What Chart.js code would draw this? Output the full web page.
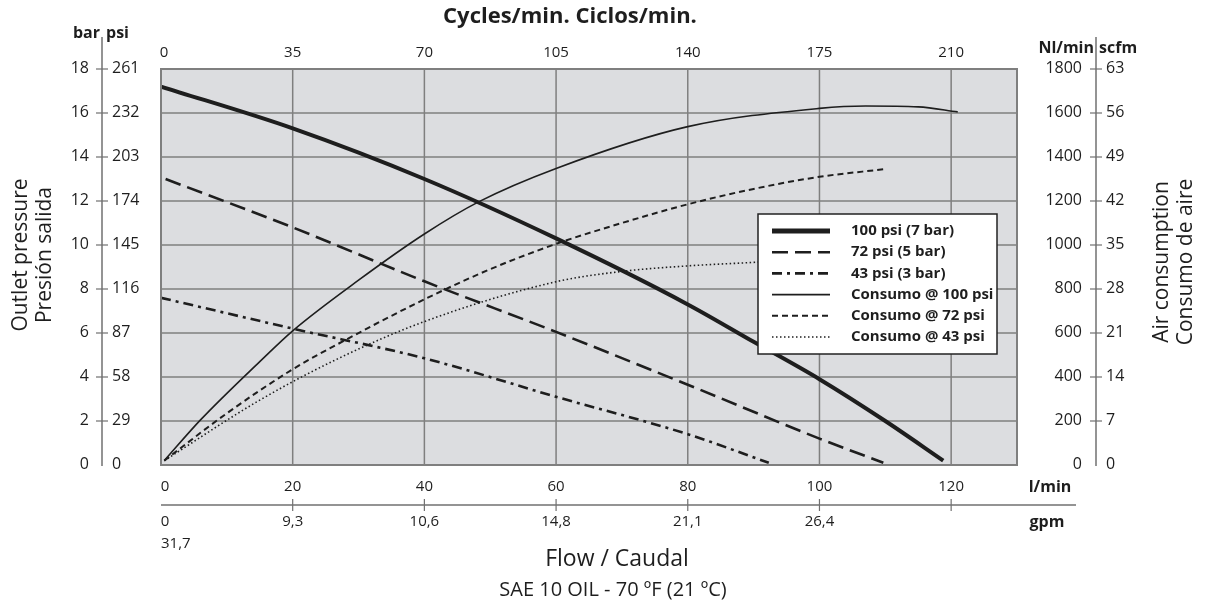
<!DOCTYPE html>
<html>
<head>
<meta charset="utf-8">
<script src="https://cdn.jsdelivr.net/npm/chart.js@4.4.1/dist/chart.umd.min.js"></script>
<style>
    html, body { margin: 0; padding: 0; background: #fff; }
    #wrap { width: 1205px; height: 602px; position: relative; }
</style>
</head>
<body>
<div id="wrap"><canvas id="pump"></canvas></div>
<script>
// Outlet pressure curves (flow in l/min, pressure in bar)
const flowP100 = [0, 20, 40, 60, 80, 90, 100, 110, 118.8];
const presP100 = [17.2, 15.3, 13.0, 10.3, 7.3, 5.6, 3.9, 2.0, 0.2];
const flowP72 = [0.7, 20, 40, 60, 80, 100, 109.7];
const presP72 = [13.0, 10.8, 8.35, 6.05, 3.65, 1.2, 0.1];
const flowP43 = [0, 20, 40, 60, 80, 92.3];
const presP43 = [7.6, 6.2, 4.85, 3.1, 1.4, 0.1];

// Air consumption curves (flow in l/min, air in Nl/min)
const flowC100 = [0.5, 6, 15, 20, 30, 40, 48.3, 60, 80, 100, 107, 115, 121];
const airC100 = [20, 205, 470, 610, 840, 1050, 1197, 1348, 1538, 1621, 1632, 1628, 1605];
const flowC72 = [0.5, 10, 20, 28, 40, 50, 60, 70, 80, 90, 100, 109.7];
const airC72 = [20, 235, 435, 568, 753, 890, 1005, 1100, 1185, 1255, 1310, 1344];
const flowC43 = [0.5, 15, 27, 40, 60, 70, 80, 90, 92.3];
const airC43 = [20, 295, 485, 652, 833, 880, 905, 921, 925];

// Axis tick labels
const barTicks = [0, 2, 4, 6, 8, 10, 12, 14, 16, 18];
const psiTicks = ['0', '29', '58', '87', '116', '145', '174', '203', '232', '261'];
const nlTicks = [0, 200, 400, 600, 800, 1000, 1200, 1400, 1600, 1800];
const scfmTicks = ['0', '7', '14', '21', '28', '35', '42', '49', '56', '63'];
const lpmTicks = [0, 20, 40, 60, 80, 100, 120];
const cycleTicks = [0, 35, 70, 105, 140, 175, 210];
const gpmTicks = ['0', '9,3', '10,6', '14,8', '21,1', '26,4'];

const legendLabels = ['100 psi (7 bar)', '72 psi (5 bar)', '43 psi (3 bar)',
    'Consumo @ 100 psi', 'Consumo @ 72 psi', 'Consumo @ 43 psi'];

const FONT = '"Open Sans", "DejaVu Sans", sans-serif';
const INK = '#1e1e1e';
const AXIS = '#707070';
const GRID = '#7f7f7f';

function pts(xs, ys) {
    return xs.map((x, i) => ({ x: x, y: ys[i] }));
}

function curve(label, data, axis, width, dash) {
    return {
        label: label,
        data: data,
        yAxisID: axis,
        borderColor: INK,
        borderWidth: width,
        borderDash: dash,
        pointRadius: 0,
        cubicInterpolationMode: 'monotone',
        fill: false,
    };
}

const datasets = [
    curve(legendLabels[0], pts(flowP100, presP100), 'y', 4, []),
    curve(legendLabels[1], pts(flowP72, presP72), 'y', 2.6, [16, 7]),
    curve(legendLabels[2], pts(flowP43, presP43), 'y', 2.6, [10, 5, 3, 5]),
    curve(legendLabels[3], pts(flowC100, airC100), 'y2', 1.6, []),
    curve(legendLabels[4], pts(flowC72, airC72), 'y2', 2, [6, 4]),
    curve(legendLabels[5], pts(flowC43, airC43), 'y2', 1.6, [1.5, 2.5]),
];

function txt(ctx, s, x, y, size, bold, align) {
    ctx.font = (bold ? 'bold ' : '') + size + 'px ' + FONT;
    ctx.textAlign = align || 'center';
    ctx.textBaseline = 'middle';
    ctx.fillStyle = INK;
    ctx.fillText(s, x, y);
}

function vtxt(ctx, s, x, y, size) {
    ctx.save();
    ctx.translate(x, y);
    ctx.rotate(-Math.PI / 2);
    txt(ctx, s, 0, 0, size, false, 'center');
    ctx.restore();
}

function line(ctx, x1, y1, x2, y2, color, width) {
    ctx.beginPath();
    ctx.strokeStyle = color;
    ctx.lineWidth = width;
    ctx.setLineDash([]);
    ctx.moveTo(x1, y1);
    ctx.lineTo(x2, y2);
    ctx.stroke();
}

const pumpDecor = {
    id: 'pumpDecor',
    beforeDatasetsDraw(chart) {
        const { ctx, chartArea: a, scales } = chart;
        ctx.save();
        ctx.fillStyle = '#dcdde0';
        ctx.fillRect(a.left, a.top, a.right - a.left, a.bottom - a.top);
        // grid
        lpmTicks.forEach(v => {
            const x = scales.x.getPixelForValue(v);
            line(ctx, x, a.top, x, a.bottom, GRID, 1.5);
        });
        barTicks.forEach(v => {
            const y = scales.y.getPixelForValue(v);
            line(ctx, a.left, y, a.right, y, GRID, 1.5);
        });
        ctx.restore();
    },
    afterDatasetsDraw(chart) {
        const { ctx, chartArea: a } = chart;
        ctx.save();
        ctx.strokeStyle = GRID;
        ctx.lineWidth = 2;
        ctx.setLineDash([]);
        ctx.strokeRect(a.left, a.top, a.right - a.left, a.bottom - a.top);

        // legend box
        const lx = 758, ly = 214, lw = 239, lh = 140;
        ctx.fillStyle = '#fff';
        ctx.fillRect(lx, ly, lw, lh);
        ctx.strokeStyle = '#222';
        ctx.lineWidth = 1.5;
        ctx.strokeRect(lx, ly, lw, lh);
        chart.data.datasets.forEach((ds, i) => {
            const y = ly + 17 + i * 21.2;
            ctx.beginPath();
            ctx.strokeStyle = INK;
            ctx.lineWidth = i === 0 ? 5 : ds.borderWidth;
            ctx.setLineDash(ds.borderDash);
            ctx.moveTo(772, y);
            ctx.lineTo(830, y);
            ctx.stroke();
            txt(ctx, ds.label, 851, y, 15, true, 'left');
        });
        ctx.restore();
    },
    afterDraw(chart) {
        const { ctx, chartArea: a, scales } = chart;
        ctx.save();

        // top: cycles/min
        txt(ctx, 'Cycles/min. Ciclos/min.', 570, 17, 22, true);
        cycleTicks.forEach(c => {
            const x = scales.x.getPixelForValue(c * 20 / 35);
            txt(ctx, String(c), c === 0 ? x + 3 : x, 53, 15, false);
        });

        // left: bar / psi
        line(ctx, 102, 37, 102, 466, AXIS, 1.5);
        txt(ctx, 'bar', 100, 33, 16, true, 'right');
        txt(ctx, 'psi', 106, 33, 16, true, 'left');
        barTicks.forEach((b, i) => {
            const y = scales.y.getPixelForValue(b);
            if (b > 0) line(ctx, 96, y, 108, y, AXIS, 1.2);
            txt(ctx, String(b), 89, y - 1, 16, false, 'right');
            txt(ctx, psiTicks[i], 112, y - 1, 16, false, 'left');
        });
        vtxt(ctx, 'Outlet pressure', 21, 255, 21);
        vtxt(ctx, 'Presión salida', 45, 255, 21);

        // right: Nl/min / scfm
        line(ctx, 1096, 37, 1096, 466, AXIS, 1.5);
        txt(ctx, 'Nl/min', 1094, 48, 16, true, 'right');
        txt(ctx, 'scfm', 1099, 48, 16, true, 'left');
        nlTicks.forEach((n, i) => {
            const y = scales.y2.getPixelForValue(n);
            if (n > 0) line(ctx, 1090, y, 1102, y, AXIS, 1.2);
            txt(ctx, String(n), 1082, y - 1, 16, false, 'right');
            txt(ctx, scfmTicks[i], 1106, y - 1, 16, false, 'left');
        });
        vtxt(ctx, 'Air consumption', 1162, 262, 21);
        vtxt(ctx, 'Consumo de aire', 1186, 262, 21);

        // bottom: l/min and gpm
        lpmTicks.forEach((q, i) => {
            const x = scales.x.getPixelForValue(q);
            txt(ctx, String(q), q === 0 ? x + 4 : x, 487, 15, false);
            if (q > 0) line(ctx, x, 499, x, 511, AXIS, 1.2);
            if (gpmTicks[i] !== undefined) {
                txt(ctx, gpmTicks[i], q === 0 ? x + 4 : x, 522, 15, false);
            }
        });
        line(ctx, a.left, 505, 1076, 505, AXIS, 1.5);
        txt(ctx, '31,7', a.left, 544, 15, false, 'left');
        txt(ctx, 'l/min', 1050, 487, 16, true);
        txt(ctx, 'gpm', 1047, 522, 16, true);
        txt(ctx, 'Flow / Caudal', 617, 559, 23, false);
        txt(ctx, 'SAE 10 OIL - 70 ºF (21 ºC)', 613, 590, 20, false);

        ctx.restore();
    },
};

new Chart(document.getElementById('pump').getContext('2d'), {
    type: 'line',
    data: { datasets: datasets },
    options: {
        responsive: true,
        maintainAspectRatio: false,
        animation: false,
        events: [],
        layout: {
            autoPadding: false,
            padding: { left: 161, right: 188, top: 69, bottom: 137 },
        },
        plugins: {
            legend: { display: false },
            tooltip: { enabled: false },
        },
        scales: {
            x: { type: 'linear', min: 0, max: 130, display: false },
            y: { type: 'linear', min: 0, max: 18, display: false },
            y2: { type: 'linear', min: 0, max: 1800, display: false, position: 'right' },
        },
    },
    plugins: [pumpDecor],
});
</script>
</body>
</html>
